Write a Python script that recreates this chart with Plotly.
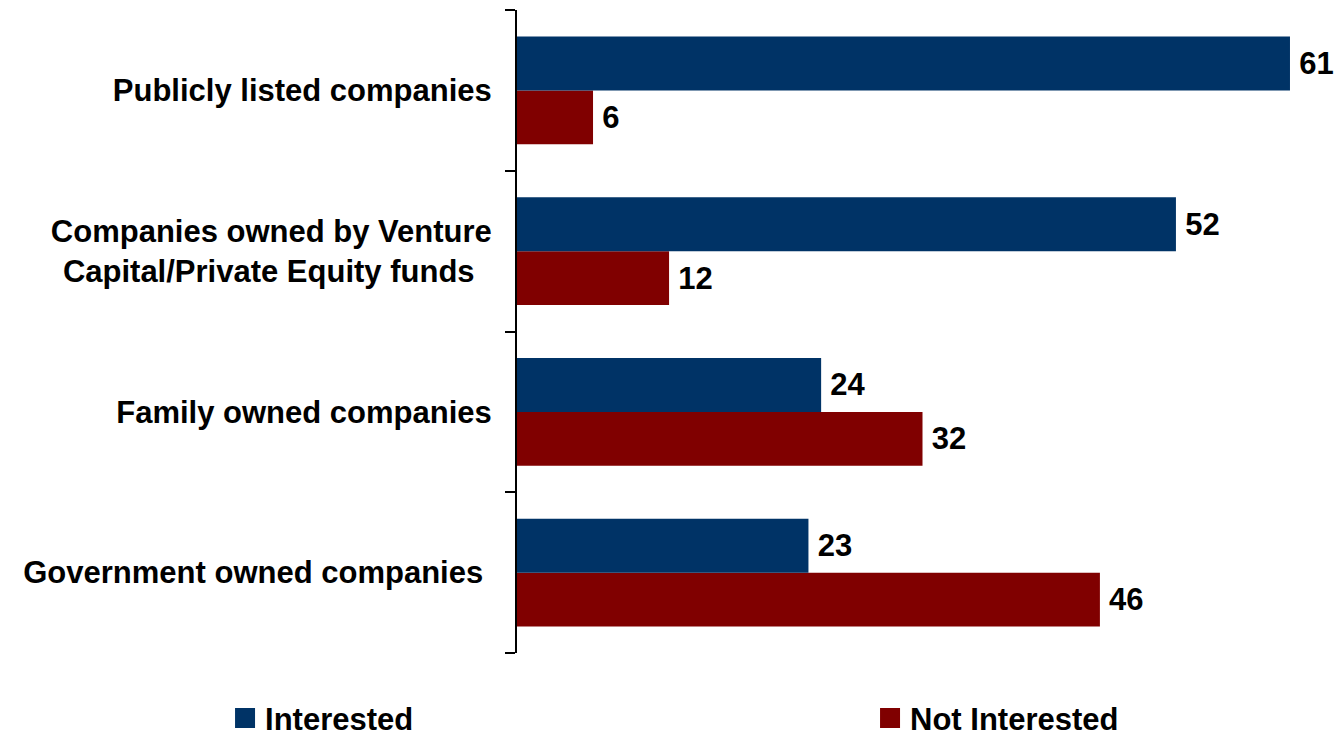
import plotly.graph_objects as go

# Survey: interest by type of company (listed top to bottom)
categories = [
    "Publicly listed companies",
    "Companies owned by Venture<br>Capital/Private Equity funds\u00a0\u00a0",
    "Family owned companies",
    "Government owned companies\u00a0",
]
interested = [61, 52, 24, 23]
not_interested = [6, 12, 32, 46]

series_names = ["Interested", "Not Interested"]
series_values = [interested, not_interested]
series_colors = ["#003366", "#800000"]

FONT = "Liberation Sans, Arial, sans-serif"
label_font = dict(family=FONT, size=31, color="black", weight="bold")

fig = go.Figure()

# Bars are added bottom-up so that "Interested" sits above "Not Interested"
for name, values, color in reversed(list(zip(series_names, series_values, series_colors))):
    fig.add_trace(go.Bar(
        name=name,
        y=categories,
        x=values,
        orientation="h",
        marker=dict(color=color, line=dict(width=0)),
        texttemplate="\u2009%{x}",
        textposition="outside",
        textfont=label_font,
        constraintext="none",
        cliponaxis=False,
        legendgroup=name,
        showlegend=False,
        hoverinfo="skip",
    ))

# Larger square swatches for the legend
for name, color in zip(series_names, series_colors):
    fig.add_trace(go.Scatter(
        name=name,
        x=[None],
        y=[None],
        mode="markers",
        marker=dict(symbol="square", size=16, color=color, line=dict(color=color, width=4)),
        legendgroup=name,
        showlegend=True,
    ))

fig.update_layout(
    width=1336,
    height=732,
    margin=dict(l=517, r=8, t=10, b=79, autoexpand=False),
    paper_bgcolor="white",
    plot_bgcolor="white",
    barmode="group",
    bargap=0.33,
    bargroupgap=0,
    font=dict(family=FONT, color="black"),
    showlegend=True,
    legend=dict(
        orientation="h",
        traceorder="normal",
        x=-0.36,
        xanchor="left",
        y=-0.1015,
        yanchor="middle",
        font=label_font,
        entrywidth=600,
        bgcolor="rgba(0,0,0,0)",
    ),
    xaxis=dict(
        range=[0, 64],
        visible=False,
        showgrid=False,
        zeroline=False,
    ),
    yaxis=dict(
        type="category",
        categoryorder="array",
        categoryarray=categories[::-1],
        range=[-0.5, 3.5],
        tickson="boundaries",
        ticks="outside",
        ticklen=10,
        tickwidth=2,
        tickcolor="black",
        showline=True,
        linecolor="black",
        linewidth=2,
        showgrid=False,
        zeroline=False,
        tickfont=label_font,
        ticklabelstandoff=17,
    ),
)

fig.write_html("out.html")
